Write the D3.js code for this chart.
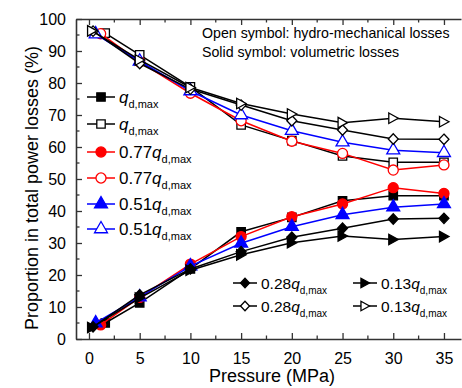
<!DOCTYPE html>
<html>
<head>
<meta charset="utf-8">
<style>
  body { margin: 0; background: #fff; }
  svg text { font-family: "Liberation Sans", Arial, sans-serif; fill: #000; }
  .axis line, .axis path { stroke: #333; }
</style>
</head>
<body>
<script src="https://cdnjs.cloudflare.com/ajax/libs/d3/7.8.5/d3.min.js"></script>
<script>
// pressure (MPa) for each flow rate; first point differs per series
var pQ100 = [1.6, 5, 10, 15, 20, 25, 30, 35];
var pQ77  = [1.15, 5, 10, 15, 20, 25, 30, 35];
var pQ51  = [0.66, 5, 10, 15, 20, 25, 30, 35];
var pQ28  = [0.4, 5, 10, 15, 20, 25, 30, 35];
var pQ13  = [0.3, 5, 10, 15, 20, 25, 30, 35];

// hydro-mechanical losses share (%) - open symbols
var hmQ100 = [95.6, 88.8, 78.8, 66.9, 62.0, 57.2, 55.2, 55.2];
var hmQ77  = [95.4, 86.6, 76.8, 68.2, 61.8, 58.0, 52.8, 54.4];
var hmQ51  = [95.3, 86.8, 77.5, 70.0, 65.1, 61.5, 59.0, 58.2];
var hmQ28  = [96.2, 86.1, 78.1, 73.1, 68.2, 65.3, 62.5, 62.4];
var hmQ13  = [96.3, 87.2, 78.6, 73.6, 70.3, 67.6, 69.0, 67.9];

// volumetric losses share (%) - solid symbols
var volQ100 = [5.0, 11.3, 21.9, 33.5, 38.0, 43.2, 44.8, 44.8];
var volQ77  = [4.4, 13.0, 23.4, 32.0, 38.2, 42.2, 47.3, 45.5];
var volQ51  = [5.0, 13.1, 22.8, 29.9, 35.1, 38.8, 41.2, 42.2];
var volQ28  = [3.8, 13.8, 21.9, 27.3, 31.8, 34.6, 37.5, 37.7];
var volQ13  = [3.6, 12.8, 21.5, 26.3, 30.1, 32.2, 31.1, 32.0];

var xTicks = [0, 5, 10, 15, 20, 25, 30, 35];
var yTicks = [0, 10, 20, 30, 40, 50, 60, 70, 80, 90, 100];

var seriesNames = ["", "", "0.77", "0.77", "0.51", "0.51", "0.28", "0.28", "0.13", "0.13"];

var W = 462, H = 388;
var L = 76, R = 461, T = 19, B = 339;

var svg = d3.select("body").append("svg")
    .attr("width", W).attr("height", H);

var x = d3.scaleLinear().domain([-1.28, 36.68]).range([L, R]);
var y = d3.scaleLinear().domain([0, 100]).range([B, T]);

// minor ticks
var xMinor = d3.range(0, 37, 2.5).filter(function (d) { return d % 5 !== 0; });
var yMinor = d3.range(5, 100, 10);

// bottom axis, ticks inward
var gx = svg.append("g").attr("class", "axis")
    .attr("transform", "translate(0," + B + ")")
    .call(d3.axisBottom(x).tickValues(xTicks).tickSizeInner(-6).tickSizeOuter(0).tickPadding(14));
gx.selectAll(".tick text").style("font-size", "16px");
gx.select(".domain").attr("stroke-width", 1.6);
gx.selectAll(".tick line").attr("stroke-width", 1.3);
gx.selectAll(".mx").data(xMinor).enter().append("line")
    .attr("x1", function (d) { return x(d); }).attr("x2", function (d) { return x(d); })
    .attr("y1", 0).attr("y2", -3.5).attr("stroke", "#333").attr("stroke-width", 1.3);

// top axis
var gt = svg.append("g").attr("class", "axis")
    .attr("transform", "translate(0," + T + ")")
    .call(d3.axisTop(x).tickValues(xTicks).tickSizeInner(-6).tickSizeOuter(0).tickFormat(""));
gt.select(".domain").attr("stroke-width", 1.6);
gt.selectAll(".tick line").attr("stroke-width", 1.3);
gt.selectAll(".mx").data(xMinor).enter().append("line")
    .attr("x1", function (d) { return x(d); }).attr("x2", function (d) { return x(d); })
    .attr("y1", 0).attr("y2", 3.5).attr("stroke", "#333").attr("stroke-width", 1.3);

// left axis
var gy = svg.append("g").attr("class", "axis")
    .attr("transform", "translate(" + L + ",0)")
    .call(d3.axisLeft(y).tickValues(yTicks).tickSizeInner(-6).tickSizeOuter(0).tickPadding(10));
gy.selectAll(".tick text").style("font-size", "16px").attr("dy", "0.36em");
gy.select(".domain").attr("stroke-width", 1.6);
gy.selectAll(".tick line").attr("stroke-width", 1.3);
gy.selectAll(".my").data(yMinor).enter().append("line")
    .attr("y1", function (d) { return y(d); }).attr("y2", function (d) { return y(d); })
    .attr("x1", 0).attr("x2", 3.5).attr("stroke", "#333").attr("stroke-width", 1.3);

// axis titles
svg.append("text")
    .attr("x", 272).attr("y", 382)
    .attr("text-anchor", "middle")
    .style("font-size", "18px")
    .text("Pressure (MPa)");

svg.append("text")
    .attr("transform", "translate(38,188) rotate(-90)")
    .attr("text-anchor", "middle")
    .style("font-size", "18px")
    .text("Proportion in total power losses (%)");

// annotation
svg.append("text").attr("x", 202).attr("y", 38).style("font-size", "14.2px")
    .text("Open symbol: hydro-mechanical losses");
svg.append("text").attr("x", 202).attr("y", 57).style("font-size", "14.2px")
    .text("Solid symbol: volumetric losses");

// marker shapes
function marker(type, size) {
  if (type === "right") {
    var s = size / 2;
    return "M" + (-s * 0.85) + "," + (-s) + "L" + (s * 0.95) + ",0L" + (-s * 0.85) + "," + s + "Z";
  }
  if (type === "diamond") {
    var d = size / 2;
    return "M0," + (-d) + "L" + (d * 0.95) + ",0L0," + d + "L" + (-d * 0.95) + ",0Z";
  }
  var sym = { square: d3.symbolSquare, circle: d3.symbolCircle, triangle: d3.symbolTriangle };
  var k = size / 10;
  var areas = { square: 64, circle: 72, triangle: 66 };
  return d3.symbol().type(sym[type]).size(areas[type] * k * k)();
}

var series = [
  { p: pQ100, v: volQ100, color: "#000", shape: "square", open: false },
  { p: pQ100, v: hmQ100,  color: "#000", shape: "square", open: true },
  { p: pQ77,  v: volQ77,  color: "#ff0000", shape: "circle", open: false },
  { p: pQ77,  v: hmQ77,   color: "#ff0000", shape: "circle", open: true },
  { p: pQ51,  v: volQ51,  color: "#0000ff", shape: "triangle", open: false },
  { p: pQ51,  v: hmQ51,   color: "#0000ff", shape: "triangle", open: true },
  { p: pQ28,  v: volQ28,  color: "#000", shape: "diamond", open: false },
  { p: pQ28,  v: hmQ28,   color: "#000", shape: "diamond", open: true },
  { p: pQ13,  v: volQ13,  color: "#000", shape: "right", open: false },
  { p: pQ13,  v: hmQ13,   color: "#000", shape: "right", open: true }
];

var line = d3.line()
    .x(function (d) { return x(d[0]); })
    .y(function (d) { return y(d[1]); });

series.forEach(function (s) {
  var pts = d3.zip(s.p, s.v);
  svg.append("path")
      .attr("d", line(pts))
      .attr("fill", "none")
      .attr("stroke", s.color)
      .attr("stroke-width", 1.5);
  svg.selectAll(null).data(pts).enter().append("path")
      .attr("transform", function (d) { return "translate(" + x(d[0]) + "," + y(d[1]) + ")"; })
      .attr("d", marker(s.shape, 10.5))
      .attr("fill", s.open ? "#fff" : s.color)
      .attr("stroke", s.color)
      .attr("stroke-width", 1.3);
});

// legend
var legendPos = [
  [101, 97], [101, 124], [101, 152], [101, 178], [101, 204], [101, 229],
  [245, 283], [245, 306], [365, 283], [365, 306]
];

series.forEach(function (s, i) {
  var cx = legendPos[i][0], cy = legendPos[i][1];
  var g = svg.append("g").attr("transform", "translate(" + cx + "," + cy + ")");
  var half = i < 6 ? 14 : 12;
  g.append("line").attr("x1", -half).attr("x2", half)
      .attr("stroke", s.color).attr("stroke-width", 1.5);
  g.append("path").attr("d", marker(s.shape, i < 6 ? 10.5 : 9.5))
      .attr("fill", s.open ? "#fff" : s.color)
      .attr("stroke", s.color).attr("stroke-width", 1.3);
  var t = g.append("text").attr("x", half + 4).attr("y", 6).style("font-size", i < 6 ? "17px" : "15.5px");
  if (seriesNames[i]) t.append("tspan").text(seriesNames[i]);
  t.append("tspan").style("font-style", "italic").text("q");
  t.append("tspan").attr("dy", 5).style("font-size", i < 6 ? "11px" : "10px").text("d,max");
});
</script>
</body>
</html>
